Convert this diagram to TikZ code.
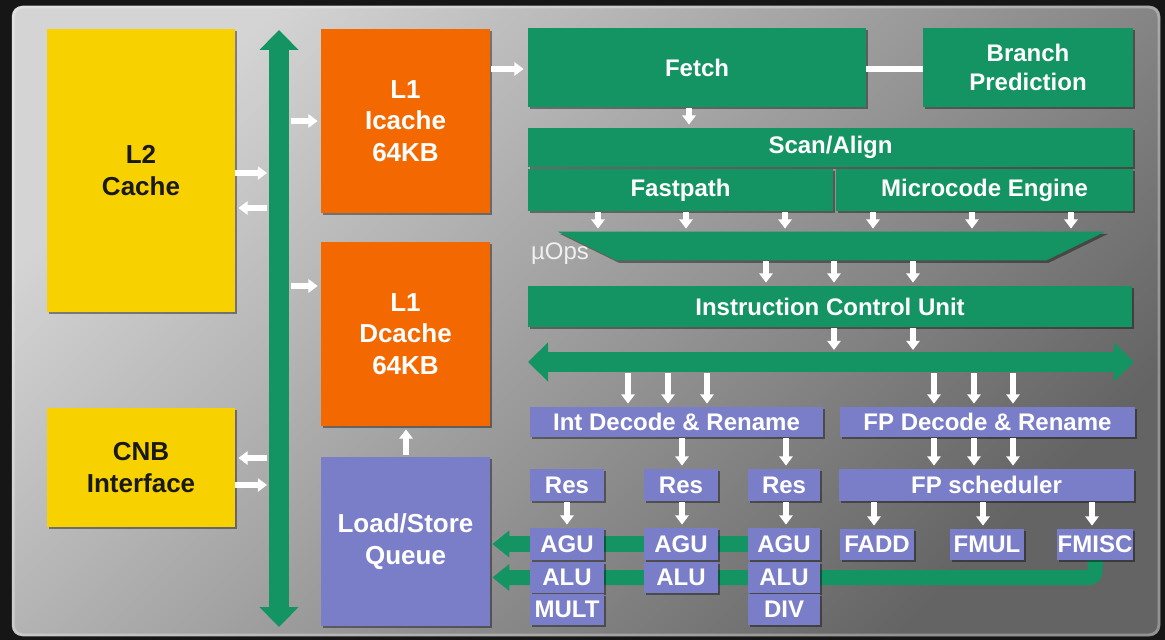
\documentclass[tikz,border=0pt]{standalone}
\usepackage{fontspec}
\setmainfont{Liberation Sans}
\usetikzlibrary{arrows.meta,shadows}

\definecolor{grn}{RGB}{20,148,98}
\definecolor{org}{RGB}{244,104,0}
\definecolor{yel}{RGB}{247,210,0}
\definecolor{per}{RGB}{122,126,200}
\definecolor{frame}{RGB}{22,22,22}
\definecolor{panelhi}{RGB}{212,212,212}
\definecolor{panelmid}{RGB}{170,170,170}
\definecolor{panello}{RGB}{100,100,100}

\pgfdeclarelayer{back}
\pgfdeclarelayer{wires}
\pgfsetlayers{back,wires,main}

% block from corner (x1,y1) to corner (x2,y2), in pixel units
\newcommand\mkbox[7][]{%
  \node[blk,#1,minimum width={(#5-#3)*0.5pt},minimum height={(#6-#4)*0.5pt}]
    (#2) at ({(#3+#5)/2},{(#4+#6)/2}) {#7};}
% short white arrow straight down from one block to the next, at column x
\newcommand\dnarrow[3]{%
  \draw[warr] ([yshift=-0.5pt]#2.south -| #1,0) -- ([yshift=1.5pt]#3.north -| #1,0);}

\begin{document}
\begin{tikzpicture}[x=0.5pt,y=-0.5pt,
  blk/.style={inner sep=0pt,align=center,text=white,
    font=\fontsize{12}{14.5}\selectfont\bfseries,
    drop shadow={shadow xshift=1.2pt,shadow yshift=-1.2pt,opacity=.4,fill=black}},
  gbox/.style={fill=grn},
  obox/.style={fill=org,font=\fontsize{13}{15.8}\selectfont\bfseries},
  ybox/.style={fill=yel,text=black!90,font=\fontsize{13}{16}\selectfont\bfseries},
  pbox/.style={fill=per},
  warr/.style={draw=white,line width=2.6pt,-{Triangle[width=6.6pt,length=4.6pt]}},
  wline/.style={draw=white,line width=2.8pt},
  bus/.style={draw=grn,line width=10pt,
    {Triangle[width=19pt,length=10pt]}-{Triangle[width=19pt,length=10pt]}},
  gwire/.style={draw=grn,-{Triangle[width=13pt,length=8.5pt]}},
]
\useasboundingbox (0,0) rectangle (1165,640);

% dark surround and the grey panel
\begin{pgfonlayer}{back}
  \fill[frame] (0,0) rectangle (1165,640);
  \shade[rounded corners=5pt,top color=panelhi,middle color=panelmid,
    bottom color=panello,shading angle=45]
    (12,6) rectangle (1160,636);
  \draw[rounded corners=5pt,white,opacity=.3,line width=1.5pt] (13,7) rectangle (1159,635);
\end{pgfonlayer}

% caches and interfaces
\mkbox[ybox]{l2}{47}{29}{235}{312}{L2\\Cache}
\mkbox[ybox]{cnb}{47}{408}{235}{527}{CNB\\Interface}
\mkbox[obox]{ic}{321}{29}{490}{213}{L1\\Icache\\64KB}
\mkbox[obox]{dc}{321}{242}{490}{426}{L1\\Dcache\\64KB}
\mkbox[pbox,font=\fontsize{13}{16}\selectfont\bfseries]{ls}{321}{457}{490}{626}{Load/Store\\Queue}

% front end
\mkbox[gbox]{fetch}{528}{28}{866}{107}{Fetch}
\mkbox[gbox]{bp}{923}{28}{1133}{107}{Branch\\Prediction}
\mkbox[gbox]{scan}{528}{128}{1133}{167}{Scan/Align}
\mkbox[gbox]{fast}{528}{169}{833}{211}{Fastpath}
\mkbox[gbox]{mc}{836}{169}{1133}{211}{Microcode Engine}

% micro-op queue
\node[minimum width=273.5pt,minimum height=14pt,inner sep=0pt] (uops) at (831.5,246) {};
\fill[grn,drop shadow={shadow xshift=1.2pt,shadow yshift=-1.2pt,opacity=.4,fill=black}]
  (uops.north west) -- (uops.north east) -- ([xshift=-29.5pt]uops.south east)
  -- ([xshift=29.5pt]uops.south west) -- cycle;
\node[text=white!94!black,font=\fontsize{12}{12}\selectfont] (uopslbl) at (560,254) {µOps};

\mkbox[gbox]{icu}{528}{286}{1132}{327}{Instruction Control Unit}

% decode and schedulers
\mkbox[pbox]{intd}{530}{407}{823}{437}{Int Decode \& Rename}
\mkbox[pbox]{fpd}{840}{407}{1135}{437}{FP Decode \& Rename}
\mkbox[pbox]{res1}{530}{469}{604}{501}{Res}
\mkbox[pbox]{res2}{644}{469}{718}{501}{Res}
\mkbox[pbox]{res3}{748}{469}{820}{501}{Res}
\mkbox[pbox]{fps}{839}{469}{1134}{501}{FP scheduler}

% execution units
\mkbox[pbox]{agu1}{530}{528}{604}{560}{AGU}
\mkbox[pbox]{alu1}{530}{562}{604}{593}{ALU}
\mkbox[pbox]{mult}{530}{594}{604}{625}{MULT}
\mkbox[pbox]{agu2}{644}{528}{718}{560}{AGU}
\mkbox[pbox]{alu2}{644}{562}{718}{593}{ALU}
\mkbox[pbox]{agu3}{748}{528}{820}{560}{AGU}
\mkbox[pbox]{alu3}{748}{562}{820}{593}{ALU}
\mkbox[pbox]{div}{748}{594}{820}{625}{DIV}
\mkbox[pbox]{fadd}{840}{529}{914}{560}{FADD}
\mkbox[pbox]{fmul}{950}{529}{1024}{560}{FMUL}
\mkbox[pbox]{fmisc}{1057}{529}{1133}{560}{FMISC}

% buses
\coordinate (vbt) at (279,30);
\coordinate (vbb) at (279,627);
\coordinate (vbL) at (267,0);
\coordinate (vbR) at (291,0);
\draw[bus] (vbt) -- (vbb);
\coordinate (hbl) at (528,362);
\coordinate (hbr) at (1134,362);
\coordinate (hbT) at (0,350);
\coordinate (hbB) at (0,373);
\draw[bus] (hbl) -- (hbr);

% result paths back to the load/store queue
\begin{pgfonlayer}{wires}
  \draw[gwire,line width=8pt] (agu3.center) -- ([xshift=1pt]ls.east |- agu3.center);
  \draw[gwire,line width=7.5pt,rounded corners=3pt]
    (fmisc.center) |- ([xshift=1pt]ls.east |- alu1.center);
\end{pgfonlayer}

% cache and interface traffic
\draw[warr] (l2.east |- 0,173) -- (vbL |- 0,173);
\draw[warr] (vbL |- 0,208) -- ([xshift=1.5pt]l2.east |- 0,208);
\draw[warr] (vbL |- 0,458) -- ([xshift=1.5pt]cnb.east |- 0,458);
\draw[warr] (cnb.east |- 0,485) -- (vbL |- 0,485);
\draw[warr] (vbR |- 0,121) -- ([xshift=-1.5pt]ic.west |- 0,121);
\draw[warr] (vbR |- 0,286) -- ([xshift=-1.5pt]dc.west |- 0,286);
\draw[warr] ([yshift=1pt]ls.north -| 406,0) -- ([yshift=-1.5pt]dc.south -| 406,0);
\draw[warr] ([xshift=0.5pt]ic.east |- 0,69) -- ([xshift=-2pt]fetch.west |- 0,69);
\draw[wline] (fetch.east |- 0,69) -- (bp.west |- 0,69);

% pipeline flow
\dnarrow{689}{fetch}{scan}
\foreach \x in {598,686,785} {\dnarrow{\x}{fast}{uops}}
\foreach \x in {873,972,1071} {\dnarrow{\x}{mc}{uops}}
\foreach \x in {766,834,913} {\dnarrow{\x}{uops}{icu}}
\foreach \x in {834,913} {\draw[warr] ([yshift=-0.5pt]icu.south -| \x,0) -- (hbT -| \x,0);}
\foreach \x in {628,668,707} {\draw[warr] (hbB -| \x,0) -- ([yshift=1.5pt]intd.north -| \x,0);}
\foreach \x in {934,974,1013} {\draw[warr] (hbB -| \x,0) -- ([yshift=1.5pt]fpd.north -| \x,0);}
\dnarrow{682}{intd}{res2}
\dnarrow{786}{intd}{res3}
\foreach \x in {934,974,1013} {\dnarrow{\x}{fpd}{fps}}
\dnarrow{567}{res1}{agu1}
\dnarrow{682}{res2}{agu2}
\dnarrow{786}{res3}{agu3}
\dnarrow{874}{fps}{fadd}
\dnarrow{983}{fps}{fmul}
\dnarrow{1092}{fps}{fmisc}
\end{tikzpicture}
\end{document}
